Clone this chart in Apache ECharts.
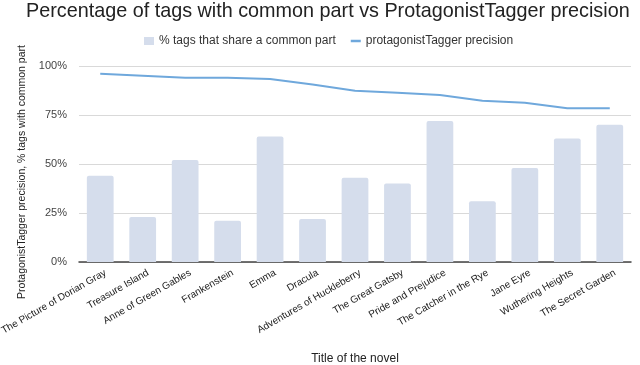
<!DOCTYPE html>
<html>
<head>
<meta charset="utf-8">
<script src="https://cdn.jsdelivr.net/npm/echarts@6/dist/echarts.min.js"></script>
<style>html,body{margin:0;padding:0;background:#fff}#c{width:640px;height:365px}</style>
</head>
<body>
<div id="c"></div>
<script>
var categories = ["The Picture of Dorian Gray","Treasure Island","Anne of Green Gables","Frankenstein","Emma","Dracula","Adventures of Huckleberry","The Great Gatsby","Pride and Prejudice","The Catcher in the Rye","Jane Eyre","Wuthering Heights","The Secret Garden"];
var commonPart = [44, 23, 52, 21, 64, 22, 43, 40, 72, 31, 48, 63, 70];
var precision = [96, 95, 94, 94, 93.4, 90.6, 87.4, 86.4, 85.2, 82.3, 81.3, 78.4, 78.4];
var yTicks = [0, 25, 50, 75, 100];

var chart = echarts.init(document.getElementById('c'), null, {renderer: 'canvas'});
var font = '"Liberation Sans", Arial, sans-serif';
chart.setOption({
  animation: false,
  textStyle: {fontFamily: font},
  title: {
    text: 'Percentage of tags with common part vs ProtagonistTagger precision',
    left: 21, top: -3,
    textStyle: {fontFamily: font, fontSize: 19.8, fontWeight: 'normal', color: '#222'}
  },
  legend: {
    top: 30, left: 139, itemGap: 15, itemWidth: 10, itemHeight: 8,
    textStyle: {fontFamily: font, fontSize: 12, color: '#333'},
    data: [
      {name: '% tags that share a common part', icon: 'rect'},
      {name: 'protagonistTagger precision', icon: 'path://M0,3 L10,3 L10,5.5 L0,5.5 Z'}
    ]
  },
  grid: {left: 79, right: 9, top: 66, bottom: 103, outerBoundsMode: 'none', containLabel: false},
  xAxis: {
    type: 'category', data: categories,
    name: 'Title of the novel', nameLocation: 'middle', nameGap: 91,
    nameTextStyle: {fontFamily: font, fontSize: 12, color: '#222'},
    axisTick: {show: false},
    axisLine: {lineStyle: {color: '#444', width: 1.5}},
    axisLabel: {rotate: 30, interval: 0, fontSize: 10, color: '#222', margin: 13, padding: [0, -6, 0, 0], fontFamily: font}
  },
  yAxis: {
    type: 'value', min: 0, max: 100, interval: 25,
    name: 'ProtagonistTagger precision, % tags with common part',
    nameLocation: 'middle', nameGap: 50,
    nameTextStyle: {fontFamily: font, fontSize: 10.5, color: '#222', padding: [0, 16, 0, 0]},
    axisLabel: {formatter: function (v) { return yTicks.indexOf(v) >= 0 ? v + '%' : ''; }, fontSize: 11, color: '#444', margin: 12, fontFamily: font},
    splitLine: {lineStyle: {color: '#d9d9d9', width: 1}},
    axisLine: {show: false}, axisTick: {show: false}
  },
  series: [
    {
      name: '% tags that share a common part', type: 'bar', data: commonPart,
      barWidth: '63%',
      itemStyle: {color: '#d5ddec', borderRadius: [2, 2, 0, 0]}
    },
    {
      name: 'protagonistTagger precision', type: 'line', data: precision,
      symbol: 'none', smooth: false,
      lineStyle: {color: '#6fa8dc', width: 2},
      itemStyle: {color: '#6fa8dc'}
    }
  ]
});
</script>
</body>
</html>
